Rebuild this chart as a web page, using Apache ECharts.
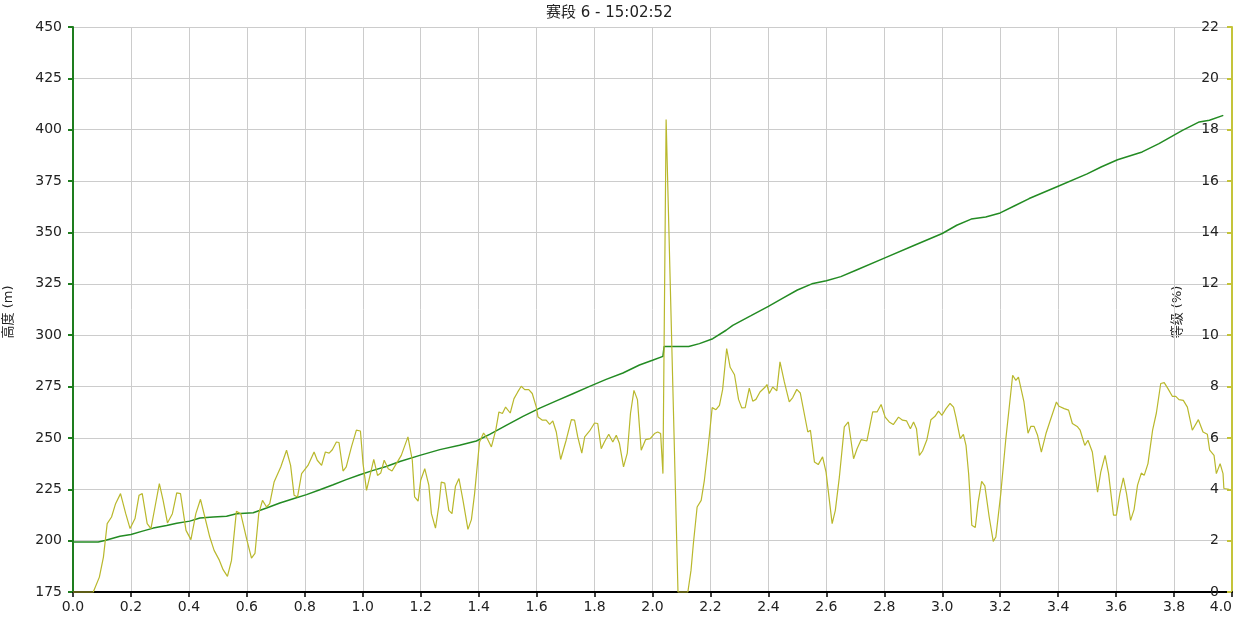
<!DOCTYPE html>
<html>
<head>
<meta charset="utf-8">
<script src="https://cdn.jsdelivr.net/npm/echarts@6/dist/echarts.min.js"></script>
<style>
html,body{margin:0;padding:0;background:#fff;}
#chart{width:1242px;height:621px;}
</style>
</head>
<body>
<div id="chart"></div>
<script>
const titleText = '赛段 6 - 15:02:52';
const leftAxisName = '高度 (m)';
const rightAxisName = '等级 (%)';

const elevDist = [0,0.087,0.11,0.162,0.2,0.237,0.277,0.323,0.358,0.403,0.438,0.484,0.53,0.564,0.622,0.668,0.714,0.76,0.806,0.852,0.898,0.943,0.99,1.036,1.081,1.128,1.197,1.266,1.334,1.392,1.438,1.495,1.553,1.611,1.668,1.725,1.783,1.84,1.898,1.955,2.0,2.036,2.04,2.125,2.162,2.208,2.254,2.277,2.34,2.4,2.45,2.5,2.55,2.6,2.65,2.7,2.8,2.9,3.0,3.05,3.1,3.15,3.2,3.25,3.3,3.4,3.5,3.55,3.605,3.69,3.748,3.829,3.887,3.922,3.97];
const elevation = [199.3,199.3,200.1,202.1,203.0,204.5,206.1,207.4,208.5,209.5,211.0,211.5,211.9,213.1,213.6,215.9,218.3,220.4,222.4,224.8,227.2,229.7,232.1,234.2,236.1,238.5,241.5,244.3,246.4,248.5,251.7,256.1,260.5,264.5,268.0,271.5,275.1,278.5,281.6,285.5,287.8,289.7,294.5,294.5,295.9,298.3,302.4,304.8,309.5,314.0,318.0,322.0,325.0,326.5,328.5,331.5,337.5,343.5,349.5,353.5,356.5,357.5,359.5,363,366.5,372.5,378.5,382,385.4,389.2,393.2,399.7,403.8,404.6,407];

const gradeDist = [0,0.07,0.091,0.105,0.118,0.133,0.147,0.164,0.182,0.197,0.214,0.228,0.239,0.256,0.269,0.283,0.298,0.311,0.326,0.343,0.358,0.371,0.39,0.407,0.424,0.44,0.455,0.472,0.487,0.505,0.518,0.533,0.547,0.564,0.579,0.599,0.616,0.628,0.641,0.654,0.668,0.679,0.694,0.717,0.737,0.751,0.763,0.775,0.789,0.811,0.832,0.843,0.858,0.871,0.884,0.895,0.909,0.918,0.932,0.943,0.961,0.978,0.992,1.001,1.013,1.024,1.038,1.051,1.062,1.074,1.088,1.101,1.116,1.133,1.156,1.171,1.179,1.191,1.2,1.214,1.228,1.237,1.251,1.262,1.271,1.283,1.297,1.308,1.32,1.332,1.346,1.363,1.375,1.386,1.403,1.417,1.43,1.444,1.459,1.47,1.482,1.493,1.509,1.522,1.535,1.547,1.559,1.573,1.585,1.599,1.605,1.62,1.633,1.645,1.656,1.668,1.683,1.702,1.72,1.731,1.742,1.756,1.766,1.783,1.8,1.811,1.823,1.834,1.849,1.863,1.875,1.886,1.9,1.913,1.924,1.936,1.948,1.961,1.976,1.992,2.007,2.018,2.028,2.036,2.047,2.088,2.122,2.133,2.141,2.154,2.168,2.179,2.191,2.206,2.219,2.231,2.242,2.256,2.268,2.283,2.297,2.308,2.32,2.334,2.346,2.357,2.371,2.389,2.395,2.403,2.415,2.429,2.44,2.455,2.472,2.484,2.498,2.51,2.536,2.545,2.559,2.572,2.587,2.599,2.62,2.631,2.645,2.662,2.676,2.694,2.706,2.72,2.74,2.76,2.775,2.789,2.803,2.817,2.831,2.849,2.863,2.877,2.89,2.901,2.911,2.921,2.932,2.947,2.961,2.975,2.987,2.999,3.013,3.027,3.039,3.047,3.062,3.073,3.082,3.091,3.102,3.114,3.124,3.136,3.147,3.162,3.176,3.185,3.202,3.219,3.243,3.254,3.263,3.282,3.296,3.306,3.317,3.329,3.342,3.358,3.371,3.394,3.403,3.421,3.436,3.449,3.467,3.476,3.492,3.503,3.518,3.536,3.547,3.562,3.574,3.591,3.601,3.613,3.625,3.636,3.65,3.662,3.674,3.687,3.697,3.71,3.726,3.739,3.754,3.766,3.779,3.794,3.806,3.817,3.832,3.846,3.863,3.884,3.9,3.915,3.923,3.938,3.946,3.959,3.969,3.972,3.99];
const grade = [0,0,0.58,1.36,2.66,2.92,3.44,3.83,3.05,2.47,2.86,3.77,3.83,2.66,2.47,3.31,4.22,3.57,2.69,3.05,3.86,3.83,2.40,2.04,3.05,3.61,2.92,2.14,1.62,1.24,0.87,0.61,1.23,3.14,3.05,2.08,1.32,1.50,3.05,3.57,3.31,3.44,4.28,4.87,5.52,4.93,3.77,3.70,4.61,4.93,5.45,5.13,4.93,5.45,5.41,5.54,5.84,5.82,4.71,4.87,5.65,6.30,6.27,5.0,3.96,4.48,5.16,4.54,4.63,5.13,4.80,4.71,5.0,5.32,6.04,5.13,3.70,3.54,4.35,4.80,4.16,3.05,2.49,3.31,4.28,4.24,3.18,3.05,4.12,4.42,3.57,2.44,2.82,3.83,5.84,6.19,5.97,5.65,6.30,7.01,6.95,7.20,6.97,7.53,7.79,8.01,7.88,7.88,7.73,7.20,6.81,6.69,6.69,6.53,6.66,6.23,5.16,5.91,6.71,6.69,6.04,5.41,6.04,6.27,6.58,6.56,5.58,5.84,6.14,5.84,6.10,5.78,4.87,5.41,6.95,7.85,7.49,5.52,5.93,5.97,6.17,6.23,6.17,4.61,18.4,0,0,0.85,1.88,3.31,3.57,4.35,5.52,7.18,7.10,7.27,7.88,9.48,8.75,8.46,7.50,7.17,7.18,7.94,7.43,7.50,7.79,7.98,8.08,7.73,7.98,7.83,8.96,8.18,7.40,7.57,7.89,7.75,6.23,6.30,5.06,4.96,5.26,4.67,2.66,3.18,4.48,6.43,6.62,5.19,5.58,5.93,5.88,7.01,7.01,7.30,6.81,6.62,6.52,6.81,6.69,6.66,6.36,6.62,6.36,5.32,5.49,5.93,6.71,6.84,7.04,6.88,7.14,7.34,7.20,6.81,5.97,6.14,5.71,4.61,2.60,2.51,3.50,4.31,4.13,2.92,1.97,2.14,3.83,5.91,8.44,8.24,8.37,7.40,6.18,6.45,6.45,6.10,5.45,6.17,6.62,7.40,7.23,7.14,7.08,6.56,6.43,6.30,5.71,5.91,5.45,3.89,4.67,5.32,4.61,2.99,2.99,3.83,4.44,3.83,2.79,3.21,4.16,4.63,4.54,5.0,6.30,6.97,8.12,8.15,7.92,7.62,7.62,7.49,7.46,7.20,6.30,6.71,6.23,6.14,5.52,5.32,4.61,5.0,4.61,4.03,4.0];

const FONT = 'DejaVu Sans, Noto Sans CJK SC, sans-serif';
const elevData = elevDist.map((d, i) => [d, elevation[i]]);
const gradeData = gradeDist.map((d, i) => [d, grade[i]]);

const chart = echarts.init(document.getElementById('chart'), null, {renderer: 'canvas'});
chart.setOption({
  animation: false,
  backgroundColor: '#ffffff',
  title: {
    text: titleText, left: 541, top: 1,
    textStyle: {fontFamily: FONT, fontSize: 15, fontWeight: 'normal', color: '#222'}
  },
  grid: {left: 73, right: 10, top: 27, bottom: 29, containLabel: false, outerBoundsMode: 'none'},
  xAxis: {
    type: 'value', min: 0, max: 4, interval: 0.2,
    axisLine: {show: true, onZero: false, lineStyle: {color: '#000', width: 2}},
    axisTick: {show: true, length: 5, lineStyle: {color: '#000', width: 1.5}},
    axisLabel: {fontFamily: FONT, fontSize: 14, color: '#222', margin: 8, alignMaxLabel: 'right',
      formatter: v => v.toFixed(1)},
    splitLine: {show: true, lineStyle: {color: '#cccccc', width: 1}}
  },
  yAxis: [{
    type: 'value', position: 'left', min: 175, max: 450, interval: 25,
    axisLine: {show: true, lineStyle: {color: '#1e7d1e', width: 2}},
    axisTick: {show: true, length: 5, lineStyle: {color: '#1e7d1e', width: 2}},
    axisLabel: {fontFamily: FONT, fontSize: 14, color: '#222', margin: 11},
    splitLine: {show: true, lineStyle: {color: '#cccccc', width: 1}}
  }, {
    type: 'value', position: 'right', min: 0, max: 22, interval: 2,
    axisLine: {show: true, lineStyle: {color: '#c4c43a', width: 2}},
    axisTick: {show: true, inside: true, length: 5, lineStyle: {color: '#c4c43a', width: 2}},
    axisLabel: {inside: true, fontFamily: FONT, fontSize: 14, color: '#222', margin: 13},
    splitLine: {show: false}
  }],
  graphic: [{
    type: 'text', x: 9, y: 312, rotation: Math.PI / 2,
    style: {text: leftAxisName, fontFamily: FONT, fontSize: 13, fill: '#222',
      align: 'center', verticalAlign: 'middle'}
  }, {
    type: 'text', x: 1178, y: 312, rotation: Math.PI / 2,
    style: {text: rightAxisName, fontFamily: FONT, fontSize: 13, fill: '#222',
      align: 'center', verticalAlign: 'middle'}
  }],
  series: [{
    name: 'elevation', type: 'line', yAxisIndex: 0, data: elevData,
    showSymbol: false, symbol: 'none',
    lineStyle: {color: '#238b23', width: 1.5}, z: 3
  }, {
    name: 'grade', type: 'line', yAxisIndex: 1, data: gradeData,
    showSymbol: false, symbol: 'none', clip: false,
    lineStyle: {color: '#b9b82c', width: 1.2}, z: 4
  }]
});
</script>
</body>
</html>
